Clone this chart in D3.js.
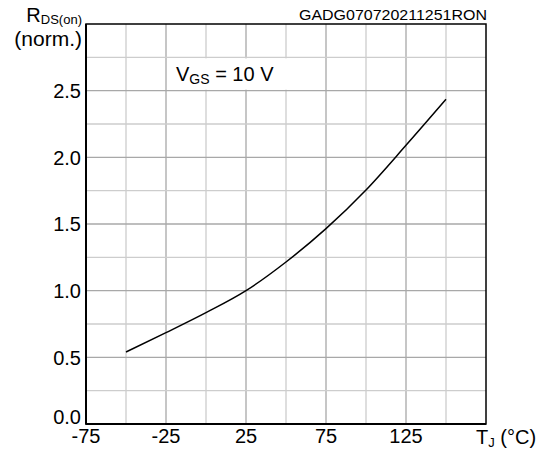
<!DOCTYPE html>
<html>
<head>
<meta charset="utf-8">
<script src="https://cdn.jsdelivr.net/npm/d3@7"></script>
<style>
  body { margin: 0; background: #fff; }
  text { font-family: "Liberation Sans", Arial, sans-serif; fill: #000; }
</style>
</head>
<body>
<svg id="chart" width="549" height="452"></svg>
<script>
const temps = [-50, -25, 0, 25, 50, 75, 100, 125, 150];
const rdsNorm = [0.54, 0.685, 0.835, 1.0, 1.215, 1.465, 1.755, 2.09, 2.435];
const xTicks = [-75, -25, 25, 75, 125];
const yTicks = [0.0, 0.5, 1.0, 1.5, 2.0, 2.5];
const chartCode = "GADG070720211251RON";

const margin = {left: 86, right: 63, top: 24, bottom: 28};
const width = 549, height = 452;

const svg = d3.select("#chart");

const x = d3.scaleLinear().domain([-75, 175]).range([margin.left, width - margin.right]);
const y = d3.scaleLinear().domain([0, 3]).range([height - margin.bottom, margin.top]);

// grid: minor lines lighter, labelled ones darker
const grid = svg.append("g");
grid.selectAll("line.vx")
    .data(d3.range(-50, 175, 25))
    .enter()
    .append("line")
    .attr("x1", d => x(d)).attr("x2", d => x(d))
    .attr("y1", y(0)).attr("y2", y(3))
    .attr("stroke", d => (xTicks.includes(d) ? "#a8a8a8" : "#cdcdcd"))
    .attr("stroke-width", 1.3);

grid.selectAll("line.hy")
    .data(d3.range(0.25, 3, 0.25))
    .enter()
    .append("line")
    .attr("x1", x(-75)).attr("x2", x(175))
    .attr("y1", d => y(d)).attr("y2", d => y(d))
    .attr("stroke", d => (Math.abs(d * 2 - Math.round(d * 2)) < 1e-6 ? "#a8a8a8" : "#cdcdcd"))
    .attr("stroke-width", 1.3);

// white box behind the condition label
svg.append("rect")
    .attr("x", x(-25) + 1).attr("y", y(2.75) + 1)
    .attr("width", x(75) - x(-25) - 2).attr("height", y(2.5) - y(2.75) - 2)
    .attr("fill", "#fff");

// curve
const line = d3.line()
    .x((d, i) => x(temps[i]))
    .y(d => y(d))
    .curve(d3.curveMonotoneX);

svg.append("path")
    .datum(rdsNorm)
    .attr("d", line)
    .attr("fill", "none")
    .attr("stroke", "#000")
    .attr("stroke-width", 1.5);

// frame
svg.append("rect")
    .attr("x", x(-75)).attr("y", y(3))
    .attr("width", x(175) - x(-75)).attr("height", y(0) - y(3))
    .attr("fill", "none")
    .attr("stroke", "#000")
    .attr("stroke-width", 1.5);
svg.append("line")
    .attr("x1", x(-75)).attr("x2", x(-75))
    .attr("y1", y(3)).attr("y2", y(0) + 0.5)
    .attr("stroke", "#000").attr("stroke-width", 2);
svg.append("line")
    .attr("x1", x(-75)).attr("x2", x(175))
    .attr("y1", y(0)).attr("y2", y(0))
    .attr("stroke", "#000").attr("stroke-width", 2);

// y tick labels
svg.append("g")
    .selectAll("text")
    .data(yTicks)
    .enter()
    .append("text")
    .attr("x", margin.left - 5)
    .attr("y", d => (d === 0 ? y(d) - 7 : y(d)))
    .attr("dy", "0.36em")
    .attr("text-anchor", "end")
    .attr("font-size", 20)
    .text(d => d.toFixed(1));

// x tick labels
svg.append("g")
    .selectAll("text")
    .data(xTicks)
    .enter()
    .append("text")
    .attr("x", d => x(d))
    .attr("y", 443)
    .attr("text-anchor", "middle")
    .attr("font-size", 20)
    .text(d => d);

// axis titles
const yTitle = svg.append("text").attr("x", 82).attr("y", 22).attr("text-anchor", "end").attr("font-size", 20);
yTitle.append("tspan").text("R");
yTitle.append("tspan").attr("font-size", 13).attr("dy", 2).text("DS(on)");
svg.append("text").attr("x", 82).attr("y", 46).attr("text-anchor", "end").attr("font-size", 21).text("(norm.)");

const xTitle = svg.append("text").attr("x", 476).attr("y", 444).attr("font-size", 20);
xTitle.append("tspan").text("T");
xTitle.append("tspan").attr("font-size", 13).attr("dy", 3).text("J");
xTitle.append("tspan").attr("dy", -3).text(" (°C)");

// condition label
const cond = svg.append("text").attr("x", 176).attr("y", 81).attr("font-size", 20);
cond.append("tspan").text("V");
cond.append("tspan").attr("font-size", 14).attr("dy", 3).text("GS");
cond.append("tspan").attr("dy", -3).text(" = 10 V");

// code in top right
svg.append("text")
    .attr("x", 487).attr("y", 20)
    .attr("text-anchor", "end")
    .attr("font-size", 14)
    .attr("textLength", 188)
    .attr("lengthAdjust", "spacingAndGlyphs")
    .text(chartCode);
</script>
</body>
</html>
